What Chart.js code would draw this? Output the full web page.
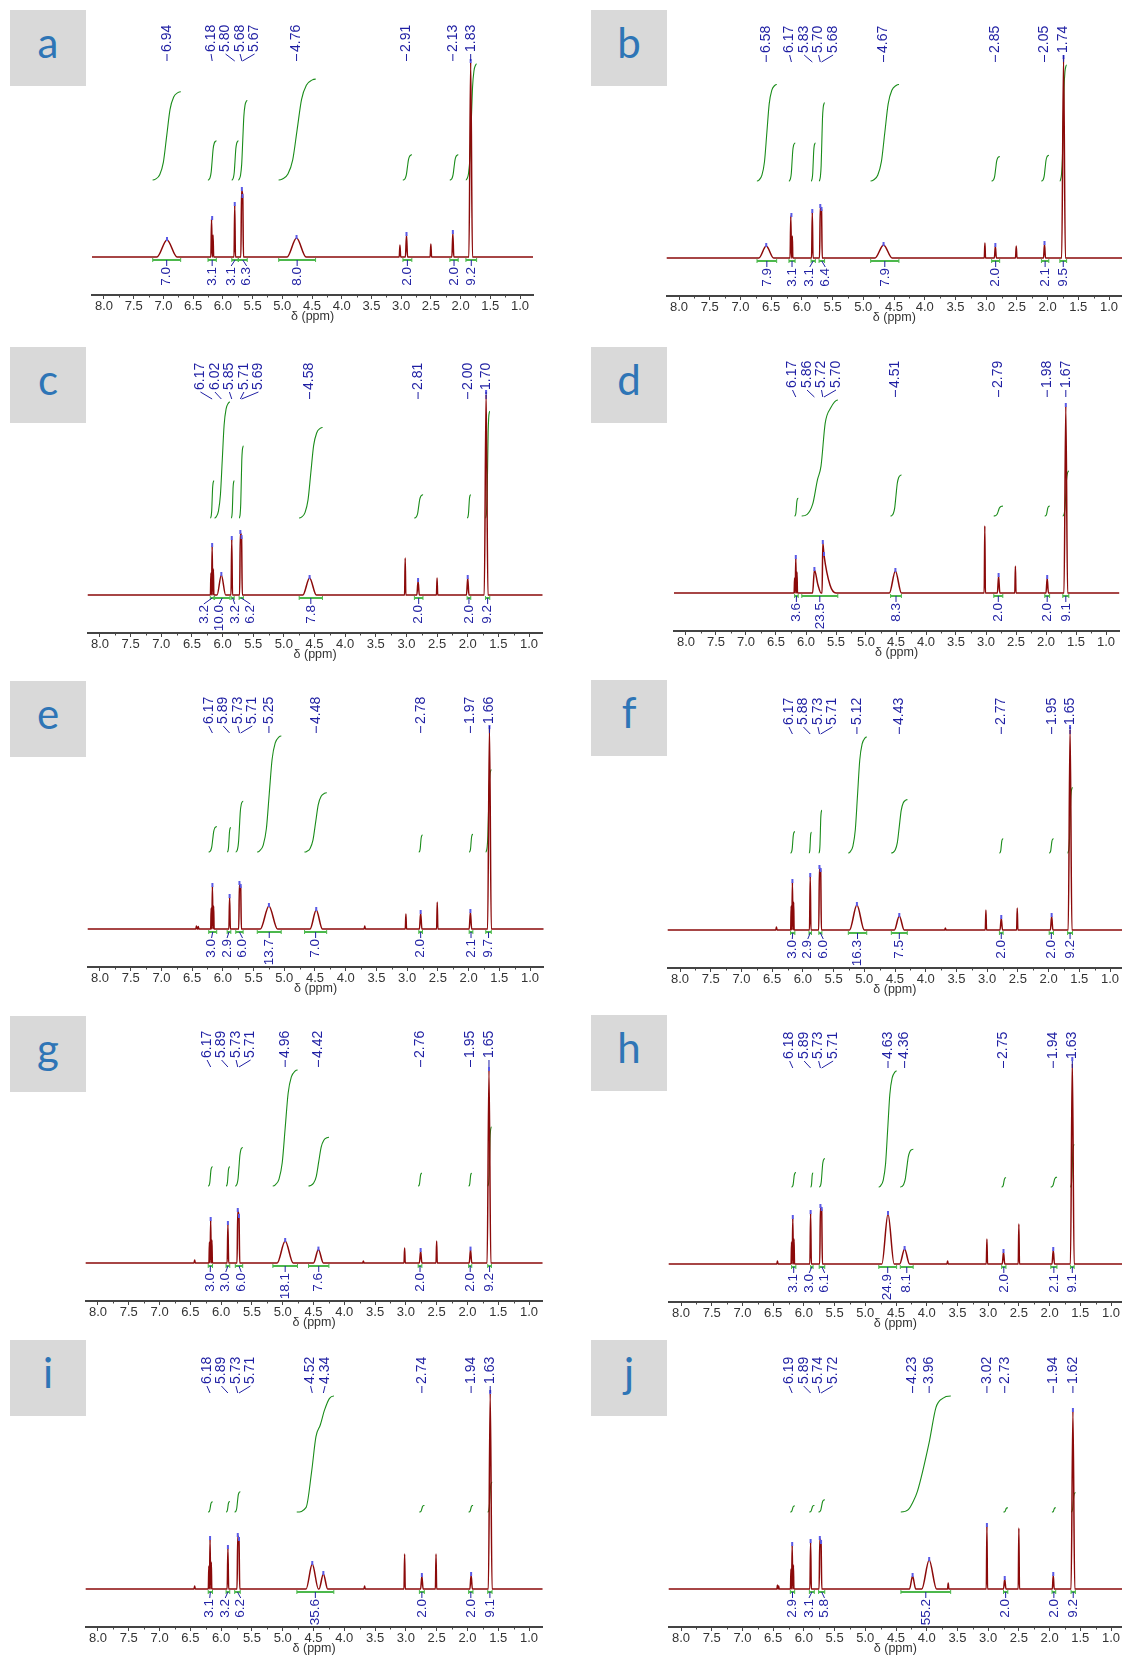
<!DOCTYPE html>
<html>
<head>
<meta charset="utf-8">
<script src="https://cdn.jsdelivr.net/npm/chart.js@4.4.0/dist/chart.umd.min.js"></script>
<style>
  html, body { margin: 0; padding: 0; background: #fff; }
  body { position: relative; width: 1122px; height: 1658px; overflow: hidden; }
  .tag { position: absolute; width: 76px; height: 76px; background: #d9d9d9; color: #2e75b6;
         font: 42px Lato, "Open Sans", sans-serif; line-height: 64px; text-align: center; }
  canvas { position: absolute; }
</style>
</head>
<body>
<script>
// peaks: [ppm, height (% of plot), half width ppm]
// integrals: [from ppm, to ppm, value, optional [[ppm, fraction]] knees]
const aPeaks = [[6.94, 8.5, 0.17], [6.19, 19, 0.012], [6.165, 11, 0.01], [5.80, 26, 0.012], [5.685, 33.5, 0.012], [5.665, 30, 0.012],
  [4.76, 9.5, 0.16], [3.02, 6, 0.012], [2.91, 11, 0.018], [2.50, 6.5, 0.012], [2.13, 12, 0.016], [1.83, 97.5, 0.03]];
const aLabels = [6.94, 6.18, 5.80, 5.68, 5.67, 4.76, 2.91, 2.13, 1.83];
const aIntegrals = [[7.18, 6.71, 7.0], [6.25, 6.11, 3.1], [5.85, 5.74, 3.1], [5.74, 5.59, 6.3], [5.06, 4.44, 8.0],
  [2.97, 2.82, 2.0], [2.18, 2.04, 2.0], [1.91, 1.73, 9.2]];

const bPeaks = [[6.58, 6, 0.12], [6.18, 21, 0.012], [6.155, 11, 0.008], [5.83, 23, 0.012], [5.70, 25.5, 0.012], [5.68, 24, 0.012],
  [4.67, 6.5, 0.14], [3.02, 7.5, 0.01], [2.85, 6, 0.016], [2.51, 6, 0.012], [2.05, 7, 0.016], [1.74, 100, 0.03]];
const bLabels = [6.58, 6.17, 5.83, 5.70, 5.68, 4.67, 2.85, 2.05, 1.74];
const bIntegrals = [[6.73, 6.41, 7.9], [6.21, 6.11, 3.1], [5.85, 5.78, 3.1], [5.72, 5.63, 6.4], [4.88, 4.42, 7.9],
  [2.91, 2.78, 2.0], [2.10, 1.98, 2.1], [1.80, 1.69, 9.5]];

const cPeaks = [[6.19, 11, 0.008], [6.17, 24.5, 0.01], [6.15, 13, 0.008], [6.02, 10, 0.07], [5.85, 28, 0.012], [5.71, 31, 0.012],
  [5.69, 28.5, 0.012], [4.58, 8.5, 0.11], [3.02, 18.5, 0.01], [2.81, 7, 0.02], [2.50, 8.5, 0.01], [2.00, 8.5, 0.02], [1.70, 101, 0.03]];
const cLabels = [6.17, 6.02, 5.85, 5.71, 5.69, 4.58, 2.81, 2.00, 1.70];
const cIntegrals = [[6.20, 6.14, 3.2], [6.13, 5.88, 10.0], [5.86, 5.81, 3.2], [5.73, 5.66, 6.2], [4.75, 4.37, 7.8],
  [2.87, 2.73, 2.0], [2.01, 1.95, 2.0], [1.71, 1.64, 9.2]];

const dPeaks = [[6.19, 7.5, 0.008], [6.17, 17.5, 0.01], [6.15, 10.5, 0.008], [5.86, 11.5, 0.03], [5.80, 4, 0.05], [5.72, 25, 0.012],
  [5.70, 19, 0.012], [5.60, 4, 0.1], [4.51, 11, 0.1], [3.02, 33.5, 0.01], [2.79, 8.5, 0.02], [2.51, 13.5, 0.01], [1.98, 7.5, 0.02], [1.67, 93.5, 0.03]];
const dLabels = [6.17, 5.86, 5.72, 5.70, 4.51, 2.79, 1.98, 1.67];
const dIntegrals = [[6.19, 6.13, 3.6], [6.07, 5.47, 23.5, [[5.89, 0.1], [5.81, 0.31], [5.75, 0.43], [5.68, 0.8], [5.59, 0.93]]],
  [4.59, 4.41, 8.3], [2.87, 2.72, 2.0], [2.02, 1.94, 2.0], [1.72, 1.62, 9.1]];

const ePeaks = [[6.43, 1.5, 0.01], [6.40, 1.2, 0.01], [6.19, 10.5, 0.008], [6.17, 21.5, 0.01], [6.15, 11.5, 0.008], [5.89, 16, 0.012],
  [5.73, 22.5, 0.012], [5.71, 21, 0.012], [5.25, 11.5, 0.14], [4.48, 9.5, 0.1], [3.69, 1.5, 0.01], [3.02, 7.5, 0.01], [2.78, 8, 0.02],
  [2.51, 13.5, 0.01], [1.97, 8.5, 0.02], [1.66, 100.5, 0.03]];
const eLabels = [6.17, 5.89, 5.73, 5.71, 5.25, 4.48, 2.78, 1.97, 1.66];
const eIntegrals = [[6.23, 6.10, 3.0], [5.93, 5.87, 2.9], [5.79, 5.67, 6.0], [5.44, 5.05, 13.7], [4.67, 4.31, 7.0],
  [2.81, 2.75, 2.0], [1.99, 1.93, 2.1], [1.72, 1.63, 9.7]];

const fPeaks = [[6.43, 1.5, 0.01], [6.19, 12, 0.008], [6.17, 24, 0.01], [6.15, 14, 0.008], [5.88, 27, 0.012], [5.73, 31, 0.012],
  [5.71, 29.5, 0.012], [5.12, 12.5, 0.12], [4.43, 7, 0.08], [3.68, 1, 0.01], [3.02, 10, 0.01], [2.77, 6, 0.02], [2.51, 11, 0.01],
  [1.95, 7, 0.02], [1.65, 101, 0.03]];
const fLabels = [6.17, 5.88, 5.73, 5.71, 5.12, 4.43, 2.77, 1.95, 1.65];
const fIntegrals = [[6.20, 6.13, 3.0], [5.90, 5.86, 2.9], [5.74, 5.69, 6.0], [5.26, 4.96, 16.3], [4.56, 4.30, 7.5],
  [2.80, 2.74, 2.0], [1.99, 1.92, 2.0], [1.69, 1.61, 9.2]];

const gPeaks = [[6.43, 1.5, 0.01], [6.19, 10.5, 0.008], [6.17, 21.5, 0.01], [6.15, 11.5, 0.008], [5.89, 19.5, 0.012], [5.73, 26, 0.012],
  [5.71, 23, 0.012], [4.96, 11, 0.13], [4.42, 6.7, 0.08], [3.69, 1, 0.01], [3.02, 7.5, 0.01], [2.76, 6, 0.02], [2.50, 11, 0.01],
  [1.95, 6.7, 0.02], [1.65, 96.5, 0.03]];
const gLabels = [6.17, 5.89, 5.73, 5.71, 4.96, 4.42, 2.76, 1.95, 1.65];
const gIntegrals = [[6.21, 6.14, 3.0], [5.92, 5.86, 3.0], [5.77, 5.65, 6.0], [5.16, 4.76, 18.1], [4.58, 4.25, 7.6],
  [2.80, 2.74, 2.0], [1.98, 1.93, 2.0], [1.67, 1.61, 9.2]];

const hPeaks = [[6.43, 1.5, 0.01], [6.20, 11, 0.008], [6.18, 23, 0.01], [6.16, 12.5, 0.008], [5.89, 25.5, 0.012], [5.73, 28.5, 0.012],
  [5.71, 27, 0.012], [4.63, 25, 0.1], [4.36, 7.5, 0.08], [3.66, 1.5, 0.01], [3.02, 12.5, 0.01], [2.75, 6, 0.02], [2.50, 20, 0.01],
  [1.94, 7, 0.02], [1.63, 102, 0.03]];
const hLabels = [6.18, 5.89, 5.73, 5.71, 4.63, 4.36, 2.75, 1.94, 1.63];
const hIntegrals = [[6.20, 6.13, 3.1], [5.89, 5.85, 3.0], [5.75, 5.66, 6.1], [4.78, 4.49, 24.9], [4.43, 4.22, 8.1],
  [2.78, 2.71, 2.0], [1.98, 1.88, 2.1], [1.66, 1.60, 9.1]];

const iPeaks = [[6.43, 1.5, 0.01], [6.20, 11.5, 0.008], [6.18, 25, 0.01], [6.16, 13.5, 0.008], [5.89, 20.5, 0.012], [5.73, 26.5, 0.012],
  [5.71, 24.5, 0.012], [4.52, 12.5, 0.1], [4.34, 7.5, 0.07], [3.67, 1.5, 0.01], [3.02, 17.5, 0.01], [2.74, 6.5, 0.02], [2.51, 17.5, 0.01],
  [1.94, 7, 0.02], [1.63, 98, 0.03]];
const iLabels = [6.18, 5.89, 5.73, 5.71, 4.52, 4.34, 2.74, 1.94, 1.63];
const iIntegrals = [[6.21, 6.14, 3.1], [5.92, 5.86, 3.2], [5.78, 5.69, 6.2],
  [4.77, 4.17, 35.6, [[4.62, 0.04], [4.53, 0.35], [4.46, 0.65], [4.39, 0.75], [4.32, 0.88], [4.24, 0.98]]],
  [2.78, 2.70, 2.0], [1.98, 1.91, 2.0], [1.67, 1.60, 9.1]];

const jPeaks = [[6.43, 2, 0.008], [6.41, 1.5, 0.008], [6.21, 10, 0.008], [6.19, 22, 0.01], [6.17, 12, 0.008], [5.89, 23.5, 0.012],
  [5.74, 25, 0.012], [5.72, 23, 0.012], [4.23, 6.5, 0.05], [3.96, 14.5, 0.12], [3.65, 3, 0.01], [3.02, 31.5, 0.01], [2.73, 5, 0.02],
  [2.50, 30.5, 0.01], [1.94, 7, 0.015], [1.62, 89, 0.03]];
const jLabels = [6.19, 5.89, 5.74, 5.72, 4.23, 3.96, 3.02, 2.73, 1.94, 1.62];
const jIntegrals = [[6.22, 6.15, 2.9], [5.91, 5.83, 3.1], [5.76, 5.66, 5.8],
  [4.42, 3.61, 55.2, [[4.30, 0.02], [4.23, 0.08], [4.15, 0.18], [3.96, 0.6], [3.85, 0.9], [3.74, 0.98]]],
  [2.75, 2.68, 2.0], [1.96, 1.90, 2.0], [1.65, 1.58, 9.2]];

const panels = [
  { tag: 'a', peaks: aPeaks, labels: aLabels, integrals: aIntegrals },
  { tag: 'b', peaks: bPeaks, labels: bLabels, integrals: bIntegrals },
  { tag: 'c', peaks: cPeaks, labels: cLabels, integrals: cIntegrals },
  { tag: 'd', peaks: dPeaks, labels: dLabels, integrals: dIntegrals },
  { tag: 'e', peaks: ePeaks, labels: eLabels, integrals: eIntegrals },
  { tag: 'f', peaks: fPeaks, labels: fLabels, integrals: fIntegrals },
  { tag: 'g', peaks: gPeaks, labels: gLabels, integrals: gIntegrals },
  { tag: 'h', peaks: hPeaks, labels: hLabels, integrals: hIntegrals },
  { tag: 'i', peaks: iPeaks, labels: iLabels, integrals: iIntegrals },
  { tag: 'j', peaks: jPeaks, labels: jLabels, integrals: jIntegrals }
];

// page layout: baseline y, pixel of the 8.0 and 1.0 ticks, tag box top
const frames = {
  a: { col: 0, base: 257, x8: 104, x1: 520, tagTop: 10 },
  b: { col: 1, base: 258, x8: 679, x1: 1109, tagTop: 10 },
  c: { col: 0, base: 595, x8: 100, x1: 529, tagTop: 347 },
  d: { col: 1, base: 593, x8: 686, x1: 1106, tagTop: 347 },
  e: { col: 0, base: 929, x8: 100, x1: 530, tagTop: 681 },
  f: { col: 1, base: 930, x8: 680, x1: 1110, tagTop: 680 },
  g: { col: 0, base: 1263, x8: 98, x1: 529, tagTop: 1016 },
  h: { col: 1, base: 1264, x8: 681, x1: 1111, tagTop: 1015 },
  i: { col: 0, base: 1589, x8: 98, x1: 529, tagTop: 1340 },
  j: { col: 1, base: 1589, x8: 681, x1: 1111, tagTop: 1340 }
};

const FONT = '"Liberation Sans", Arial, sans-serif';
const BLUE = '#1f1fa3';
const INT_BASE = 38.5, INT_SPAN = 58;
// S profile of an integral trace: [position along range, fraction of rise]
const S_SHAPE = [[0.1, 0.01], [0.25, 0.06], [0.38, 0.2], [0.5, 0.5], [0.62, 0.8], [0.75, 0.94], [0.9, 0.99]];
Chart.defaults.font.family = FONT;

function buildSpectrum(peaks, xmax, xmin) {
  const sorted = [...peaks].sort((p, q) => q[0] - p[0]);
  const pts = [{ x: xmax + 0.5, y: 0 }];
  let lastRight = null;
  sorted.forEach(([c, h, w]) => {
    if (lastRight && c + w >= lastRight.x) pts.pop();
    else pts.push({ x: c + w, y: 0 });
    pts.push({ x: c, y: h });
    lastRight = { x: c - w, y: 0 };
    pts.push(lastRight);
  });
  pts.push({ x: xmin - 0.5, y: 0 });
  return pts;
}

function buildIntegral(row, maxVal) {
  const [from, to, val, knees] = row;
  const h = INT_SPAN * val / maxVal;
  const mids = knees || S_SHAPE.map(([t, fr]) => [from + (to - from) * t, fr]);
  return [{ x: from + 0.002, y: INT_BASE }, { x: from, y: INT_BASE }]
    .concat(mids.map(([x, fr]) => ({ x, y: INT_BASE + h * fr })))
    .concat([{ x: to, y: INT_BASE + h }, { x: to - 0.002, y: INT_BASE + h }]);
}

// spread crowded labels evenly around their mean position
function spread(xs, gap) {
  const order = xs.map((x, i) => i).sort((p, q) => xs[p] - xs[q]);
  const groups = order.map(i => [i]);
  const place = g => {
    const m = g.reduce((s, i) => s + xs[i], 0) / g.length;
    return g.map((i, k) => m + (k - (g.length - 1) / 2) * gap);
  };
  let merged = true;
  while (merged) {
    merged = false;
    for (let k = 0; k < groups.length - 1; k++) {
      const p = place(groups[k]), q = place(groups[k + 1]);
      if (q[0] - p[p.length - 1] < gap - 0.01) {
        groups.splice(k, 2, groups[k].concat(groups[k + 1]));
        merged = true;
        break;
      }
    }
  }
  const out = [];
  groups.forEach(g => place(g).forEach((x, k) => { out[g[k]] = x; }));
  return out;
}

function marksPlugin(p) {
  return {
    id: 'marks' + p.tag,
    afterDraw(chart) {
      const ctx = chart.ctx, xs = chart.scales.x, ys = chart.scales.y;
      const area = chart.chartArea;
      ctx.save();
      // minor ticks
      ctx.strokeStyle = '#444';
      ctx.lineWidth = 1;
      for (let v = 1.25; v < xs.max; v += 0.5) {
        const x = Math.round(xs.getPixelForValue(v)) + 0.5;
        ctx.beginPath(); ctx.moveTo(x, area.bottom); ctx.lineTo(x, area.bottom + 2.5); ctx.stroke();
      }
      // peak picking
      ctx.font = '14px ' + FONT;
      const px = p.labels.map(v => xs.getPixelForValue(v));
      const lx = spread(px, 14.5);
      const yb = area.top + 4;
      p.labels.forEach((v, i) => {
        const near = p.peaks.reduce((b, q) => Math.abs(q[0] - v) < Math.abs(b[0] - v) ? q : b);
        const ty = ys.getPixelForValue(near[1]);
        ctx.strokeStyle = '#5a5ae6'; ctx.lineWidth = 2;
        ctx.beginPath(); ctx.moveTo(px[i], ty + 1); ctx.lineTo(px[i], ty - 3); ctx.stroke();
        ctx.strokeStyle = BLUE; ctx.lineWidth = 1;
        ctx.beginPath(); ctx.moveTo(px[i], yb); ctx.lineTo(lx[i], yb - 7); ctx.stroke();
        ctx.save();
        ctx.translate(lx[i], yb - 9);
        ctx.rotate(-Math.PI / 2);
        ctx.fillStyle = BLUE; ctx.textAlign = 'left'; ctx.textBaseline = 'middle';
        ctx.fillText(v.toFixed(2), 0, 0);
        ctx.restore();
      });
      // integral bars and values
      ctx.font = '13.5px ' + FONT;
      const by = ys.getPixelForValue(0);
      const cx = p.integrals.map(r => xs.getPixelForValue((r[0] + r[1]) / 2));
      const ix = spread(cx, 15.5);
      p.integrals.forEach((r, i) => {
        const x0 = xs.getPixelForValue(r[0]), x1 = xs.getPixelForValue(r[1]);
        ctx.strokeStyle = '#4cb84c'; ctx.lineWidth = 2;
        ctx.beginPath(); ctx.moveTo(x0, by + 3); ctx.lineTo(x1, by + 3); ctx.stroke();
        ctx.lineWidth = 1;
        ctx.beginPath();
        ctx.moveTo(x0, by + 1); ctx.lineTo(x0, by + 5);
        ctx.moveTo(x1, by + 1); ctx.lineTo(x1, by + 5);
        ctx.stroke();
        ctx.strokeStyle = BLUE;
        ctx.beginPath(); ctx.moveTo(cx[i], by + 3); ctx.lineTo(ix[i], by + 9); ctx.stroke();
        ctx.save();
        ctx.translate(ix[i], by + 10);
        ctx.rotate(-Math.PI / 2);
        ctx.fillStyle = BLUE; ctx.textAlign = 'right'; ctx.textBaseline = 'middle';
        ctx.fillText(r[2].toFixed(1), 0, 0);
        ctx.restore();
      });
      ctx.restore();
    }
  };
}

const W = 561, H = 312;
panels.forEach(p => {
  const f = frames[p.tag];
  const left = f.col ? 561 : 0, top = f.base - 240;
  const k = (f.x1 - f.x8) / 7;
  const areaL = f.x8 - 0.2 * k, areaR = Math.min(f.x1 + 0.22 * k, left + W);
  const xmax = 8 + (f.x8 - areaL) / k, xmin = 1 - (areaR - f.x1) / k;

  const tag = document.createElement('div');
  tag.className = 'tag';
  tag.textContent = p.tag;
  tag.style.left = (f.col ? 591 : 10) + 'px';
  tag.style.top = f.tagTop + 'px';
  document.body.appendChild(tag);

  const canvas = document.createElement('canvas');
  canvas.width = W; canvas.height = H;
  canvas.style.left = left + 'px'; canvas.style.top = top + 'px';
  canvas.style.width = W + 'px'; canvas.style.height = H + 'px';
  document.body.appendChild(canvas);

  const maxVal = Math.max(...p.integrals.map(r => r[2]));
  const datasets = p.integrals.map(r => ({
    data: buildIntegral(r, maxVal),
    borderColor: '#1a8c1a', borderWidth: 1.1, pointRadius: 0,
    cubicInterpolationMode: 'monotone', fill: false
  }));
  datasets.unshift({
    data: buildSpectrum(p.peaks, xmax, xmin),
    borderColor: '#8b0a0a', borderWidth: 1.5, pointRadius: 0,
    cubicInterpolationMode: 'monotone', fill: false
  });

  new Chart(canvas, {
    type: 'line',
    data: { datasets },
    options: {
      responsive: false, animation: false, devicePixelRatio: 1,
      layout: { padding: { left: areaL - left, right: left + W - areaR, top: 40, bottom: 0 } },
      plugins: { legend: { display: false }, tooltip: { enabled: false } },
      scales: {
        x: {
          type: 'linear', reverse: true, min: xmin, max: xmax,
          afterFit: s => { s.height = 34; },
          border: { display: true, color: '#444', width: 2 },
          grid: { display: true, drawOnChartArea: false, drawTicks: true, tickLength: 4, tickColor: '#444' },
          ticks: {
            stepSize: 0.5, includeBounds: false, autoSkip: false, maxRotation: 0, padding: 0,
            color: '#333', font: { size: 13 }, callback: v => v.toFixed(1)
          },
          title: { display: true, text: 'δ (ppm)', color: '#333', font: { size: 12.5 }, padding: { top: 0, bottom: 5 } }
        },
        y: { type: 'linear', display: false, min: -19, max: 100 }
      }
    },
    plugins: [marksPlugin(p)]
  });
});
</script>
</body>
</html>
